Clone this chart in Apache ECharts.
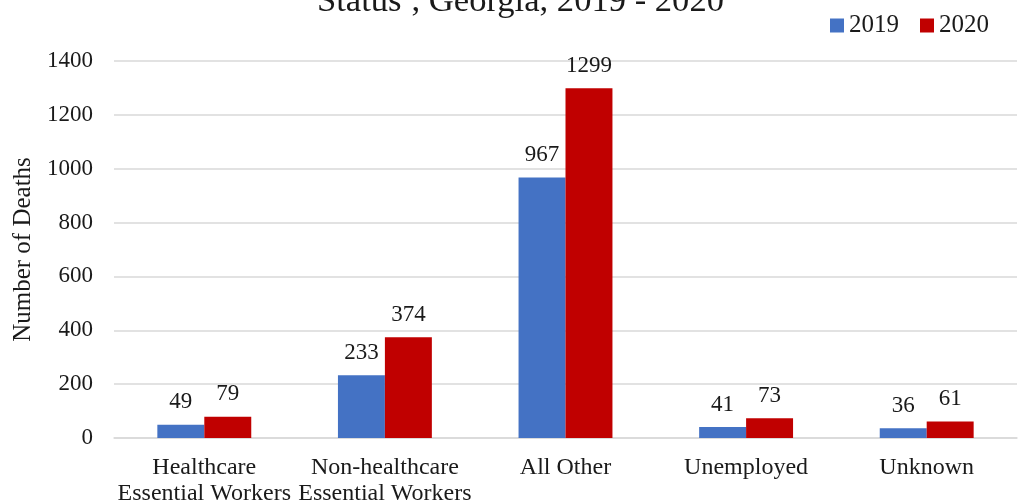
<!DOCTYPE html>
<html>
<head>
<meta charset="utf-8">
<style>
  html, body { margin: 0; padding: 0; background: #ffffff; }
  #chart { width: 1023px; height: 504px; }
</style>
<script src="https://cdn.jsdelivr.net/npm/echarts@6/dist/echarts.min.js"></script>
</head>
<body>
<div id="chart"></div>
<script>
// Deaths by employment status, Georgia
const categories = ['Healthcare\nEssential Workers', 'Non-healthcare\nEssential Workers', 'All Other', 'Unemployed', 'Unknown'];
const deaths2019 = [49, 233, 967, 41, 36];
const deaths2020 = [79, 374, 1299, 73, 61];
const seriesNames = ['2019', '2020'];
const yTicks = [0, 200, 400, 600, 800, 1000, 1200, 1400];

const serif = '"Liberation Serif", "Times New Roman", serif';
const chart = echarts.init(document.getElementById('chart'), null, { renderer: 'canvas' });

const labelStyle = {
  show: true,
  position: 'top',
  distance: 11,
  fontFamily: serif,
  fontSize: 23,
  color: '#1a1a1a'
};

chart.setOption({
  animation: false,
  backgroundColor: '#ffffff',
  title: {
    text: 'Status{sup|1}, Georgia, 2019 - 2020',
    left: 312,
    top: -22,
    textStyle: {
      fontFamily: serif,
      fontSize: 34.6,
      fontWeight: 'normal',
      color: '#1a1a1a',
      rich: {
        sup: { fontFamily: serif, fontSize: 20, verticalAlign: 'top', color: '#1a1a1a', padding: [0, 0, 17, 0] }
      }
    }
  },
  legend: {
    data: seriesNames,
    right: 29,
    top: 8,
    itemWidth: 14,
    itemHeight: 14,
    itemGap: 21,
    icon: 'rect',
    textStyle: { fontFamily: serif, fontSize: 25, color: '#1a1a1a' }
  },
  grid: { left: 114, right: 6, top: 61, bottom: 66, containLabel: false, outerBoundsMode: 'none' },
  xAxis: {
    type: 'category',
    data: categories,
    axisLine: { show: true, lineStyle: { color: '#d9d9d9', width: 1.5 } },
    axisTick: { show: false },
    axisLabel: {
      fontFamily: serif,
      fontSize: 24,
      color: '#1a1a1a',
      margin: 17,
      lineHeight: 26,
      interval: 0
    }
  },
  yAxis: {
    type: 'value',
    min: yTicks[0],
    max: yTicks[yTicks.length - 1],
    interval: yTicks[1] - yTicks[0],
    name: 'Number of Deaths',
    nameLocation: 'middle',
    nameGap: 78,
    nameTextStyle: { fontFamily: serif, fontSize: 25, color: '#1a1a1a' },
    axisLine: { show: false },
    axisTick: { show: false },
    axisLabel: {
      fontFamily: serif,
      fontSize: 23,
      color: '#1a1a1a',
      margin: 21,
      formatter: function (v) { return String(v); }
    },
    splitLine: { lineStyle: { color: '#d9d9d9', width: 1.5 } }
  },
  series: [
    {
      name: seriesNames[0],
      type: 'bar',
      data: deaths2019,
      barGap: '0%',
      barCategoryGap: '48%',
      itemStyle: { color: '#4472C4' },
      label: labelStyle
    },
    {
      name: seriesNames[1],
      type: 'bar',
      data: deaths2020,
      barGap: '0%',
      barCategoryGap: '48%',
      itemStyle: { color: '#C00000' },
      label: labelStyle
    }
  ]
});
</script>
</body>
</html>
